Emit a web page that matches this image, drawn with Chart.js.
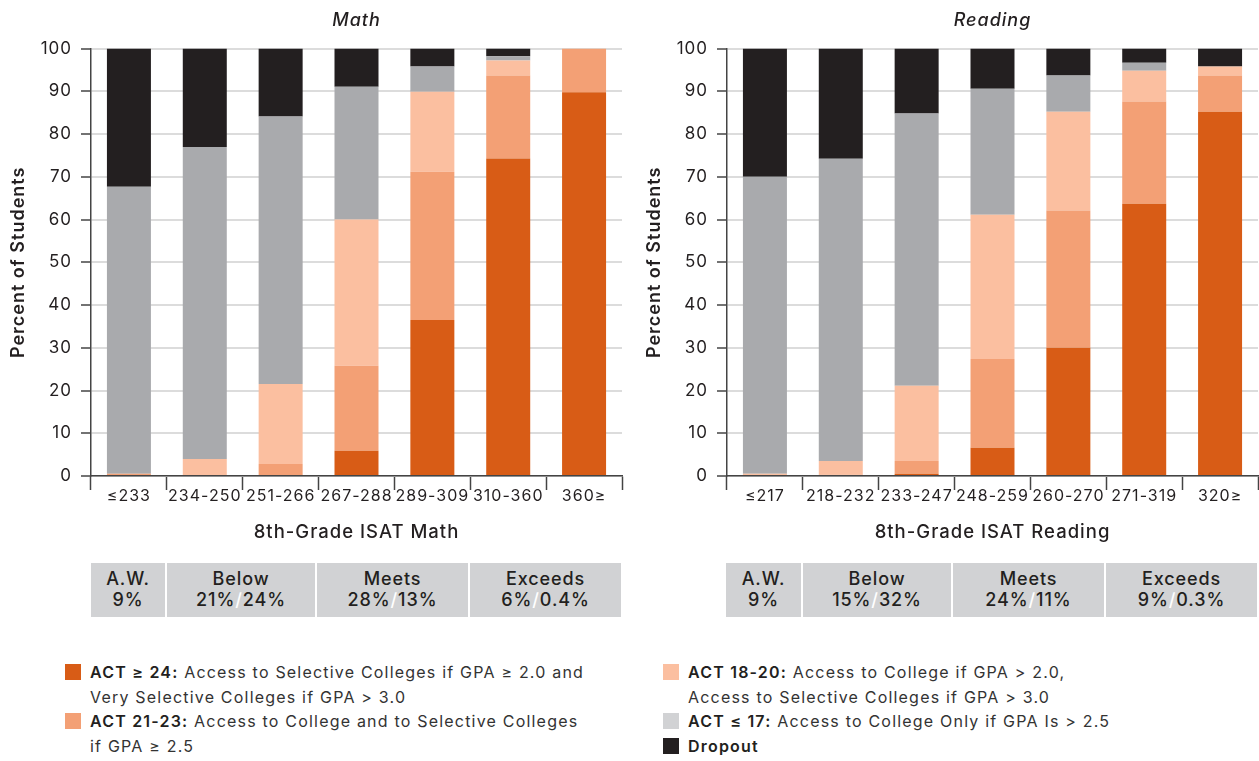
<!DOCTYPE html>
<html>
<head>
<meta charset="utf-8">
<script src="https://cdn.jsdelivr.net/npm/chart.js@4.4.1/dist/chart.umd.min.js"></script>
<style>
  html, body { margin:0; padding:0; background:#fff; }
  body { width:1259px; height:761px; position:relative; overflow:hidden; font-family:Inter, sans-serif; color:#231f20; }
  .cw { position:absolute; top:0; }
  .tbl { position:absolute; top:563px; height:54px; }
  .cell { position:absolute; top:0; height:54px; background:#d1d2d4; text-align:center; font-size:18px; font-weight:500; letter-spacing:0.9px; line-height:21px; padding-top:5px; box-sizing:border-box; color:#231f20; }
  .cell .sl { color:#fff; }
  .leg { position:absolute; font-size:16px; line-height:24.5px; color:#333; letter-spacing:1.2px; }
  .leg .item { position:relative; padding-left:25px; }
  .leg .sw { position:absolute; left:0; top:4px; width:16px; height:16px; }
  .leg b { font-weight:600; color:#231f20; }
</style>
</head>
<body>
<div class="cw" style="left:0;width:630px;height:545px;"><canvas id="math"></canvas></div>
<div class="cw" style="left:636px;width:623px;height:545px;"><canvas id="read"></canvas></div>
<div id="tables"></div>
<div id="legend"></div>
<script>
// ---- Data ----
const mathLabels = ['≤233','234-250','251-266','267-288','289-309','310-360','360≥'];
const mathAct24   = [0, 0, 0, 5.9, 36.5, 74.3, 89.8];
const mathAct2123 = [0.5, 0, 2.8, 19.9, 34.7, 19.4, 10.2];
const mathAct1820 = [0, 4.0, 18.7, 34.2, 18.7, 3.5, 0];
const mathAct17   = [67.2, 73.0, 62.6, 31.1, 5.9, 1.0, 0];
const mathDropout = [32.3, 23.0, 15.9, 8.9, 4.2, 1.8, 0];

const readLabels = ['≤217','218-232','233-247','248-259','260-270','271-319','320≥'];
const readAct24   = [0, 0, 0.5, 6.6, 30.0, 63.7, 85.2];
const readAct2123 = [0, 0.3, 3.0, 20.8, 32.1, 23.9, 8.5];
const readAct1820 = [0.5, 3.2, 17.6, 33.7, 23.1, 7.2, 2.1];
const readAct17   = [69.5, 70.7, 63.7, 29.5, 8.5, 1.9, 0];
const readDropout = [30.0, 25.8, 15.2, 9.4, 6.3, 3.3, 4.2];

const yTicks = [0,10,20,30,40,50,60,70,80,90,100];

const tableHeads = ['A.W.','Below','Meets','Exceeds'];
const mathTableVals = [['9%'], ['21%','24%'], ['28%','13%'], ['6%','0.4%']];
const readTableVals = [['9%'], ['15%','32%'], ['24%','11%'], ['9%','0.3%']];

const seriesNames = ['ACT ≥ 24','ACT 21-23','ACT 18-20','ACT ≤ 17','Dropout'];
const seriesDesc = [
  ' Access to Selective Colleges if GPA ≥ 2.0 and<br>Very Selective Colleges if GPA > 3.0',
  ' Access to College and to Selective Colleges<br>if GPA ≥ 2.5',
  ' Access to College if GPA > 2.0,<br>Access to Selective Colleges if GPA > 3.0',
  ' Access to College Only if GPA Is > 2.5',
  ''
];
const seriesColors = ['#d85c16','#f3a075','#fbbfa0','#a9aaad','#231f20'];
const legendColors = ['#d85c16','#f3a075','#fbbfa0','#d1d2d4','#231f20'];

// ---- Charts ----
const FONT = 'Inter, sans-serif';
const spacingPlugin = { id: 'spacing', beforeDraw(chart) { chart.ctx.letterSpacing = '1px'; } };

function makeChart(id, title, labels, series, xTitle) {
  return new Chart(document.getElementById(id), {
    type: 'bar',
    plugins: [spacingPlugin],
    data: {
      labels: labels,
      datasets: series.map((d, i) => ({
        label: seriesNames[i], data: d, backgroundColor: seriesColors[i],
        borderWidth: 0, barPercentage: 0.58, categoryPercentage: 1
      }))
    },
    options: {
      responsive: true, maintainAspectRatio: false, animation: false,
      layout: { padding: { top: 0, right: id === 'math' ? 8 : 1, bottom: 0, left: 0 } },
      plugins: {
        legend: { display: false }, tooltip: { enabled: false },
        title: { display: true, fullSize: false, text: title, color: '#231f20',
          font: { family: FONT, size: 18, style: 'italic', weight: 500 },
          padding: { top: 10, bottom: 17 } }
      },
      scales: {
        x: {
          stacked: true,
          grid: { display: true, drawOnChartArea: false, drawTicks: true, tickLength: 14, tickColor: '#444', tickWidth: 1.5, offset: true },
          border: { display: true, color: '#444', width: 1.5 },
          ticks: { color: '#231f20', font: { family: FONT, size: 16 }, padding: -3, maxRotation: 0, autoSkip: false },
          title: { display: true, text: xTitle, color: '#231f20', font: { family: FONT, size: 18.5, weight: 500 }, padding: { top: 0, bottom: 1 } },
          afterFit: s => { s.height = 69; }
        },
        y: {
          stacked: true, min: 0, max: 100,
          afterBuildTicks: s => { s.ticks = yTicks.map(v => ({ value: v })); },
          grid: { color: '#dcdcdc', lineWidth: 2, tickColor: '#444', tickWidth: 1.5, tickLength: 10 },
          border: { display: true, color: '#444', width: 1.5 },
          ticks: { color: '#231f20', font: { family: FONT, size: 17 }, padding: 9 },
          title: { display: true, text: 'Percent of Students', color: '#231f20', font: { family: FONT, size: 18, weight: 600 }, padding: { top: 8, bottom: 0 } },
          afterFit: s => { s.width = 91; }
        }
      }
    }
  });
}
makeChart('math', 'Math', mathLabels, [mathAct24, mathAct2123, mathAct1820, mathAct17, mathDropout], '8th-Grade ISAT Math');
makeChart('read', 'Reading', readLabels, [readAct24, readAct2123, readAct1820, readAct17, readDropout], '8th-Grade ISAT Reading');

// ---- Tables ----
function makeTable(left, widths, vals) {
  let x = 0, html = '';
  widths.forEach((w, i) => {
    const v = vals[i].length > 1 ? vals[i][0] + '<span class="sl">/</span>' + vals[i][1] : vals[i][0];
    html += `<div class="cell" style="left:${x}px;width:${w}px;">${tableHeads[i]}<br>${v}</div>`;
    x += w + 2;
  });
  return `<div class="tbl" style="left:${left}px;">${html}</div>`;
}
document.getElementById('tables').innerHTML =
  makeTable(91, [74, 148, 151, 151], mathTableVals) +
  makeTable(726, [75, 148, 151, 151], readTableVals);

// ---- Legend ----
function legItem(i) {
  const head = seriesDesc[i] ? seriesNames[i] + ':' : seriesNames[i];
  return `<div class="item"><span class="sw" style="background:${legendColors[i]}"></span><b>${head}</b>${seriesDesc[i]}</div>`;
}
document.getElementById('legend').innerHTML =
  `<div class="leg" style="left:65px;top:660px;">${legItem(0)}${legItem(1)}</div>` +
  `<div class="leg" style="left:663px;top:660px;">${legItem(2)}${legItem(3)}${legItem(4)}</div>`;
</script>
</body>
</html>
